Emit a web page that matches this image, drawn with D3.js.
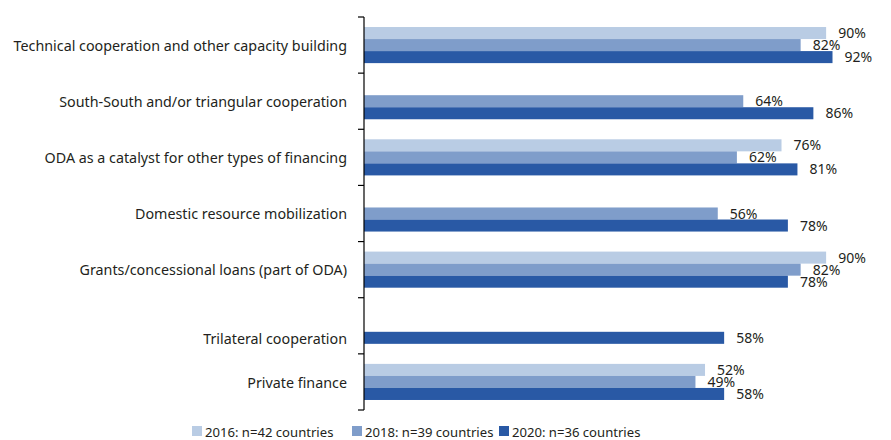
<!DOCTYPE html>
<html>
<head>
<meta charset="utf-8">
<script src="https://cdn.jsdelivr.net/npm/d3@7"></script>
<style>
  html, body { margin: 0; padding: 0; background: #fff; }
  svg { display: block; font-family: 'Noto Sans', sans-serif; }
</style>
</head>
<body>
<div id="chart"></div>
<script>
(function () {
  'use strict';

  const categories = [
    'Technical cooperation and other capacity building',
    'South-South and/or triangular cooperation',
    'ODA as a catalyst for other types of financing',
    'Domestic resource mobilization',
    'Grants/concessional loans (part of ODA)',
    'Trilateral cooperation',
    'Private finance'
  ];
  const seriesNames = ['2016: n=42 countries', '2018: n=39 countries', '2020: n=36 countries'];
  const values2016 = [90, null, 76, null, 90, null, 52];
  const values2018 = [82, 64, 62, 56, 82, null, 49];
  const values2020 = [92, 86, 81, 78, 78, 58, 58];
  const colors = ['#b9cce4', '#7f9dca', '#2959a5'];

  const width = 891;
  const height = 440;
  const textColor = '#231f20';

  const svg = d3.select('#chart')
    .append('svg')
    .attr('width', width)
    .attr('height', height);

  // Scales (the original's value axis does not start at zero)
  const yScale = d3.scaleBand()
    .domain(categories)
    .range([17, 410])
    .paddingInner(0.357)
    .paddingOuter(0.1785);

  const inner = d3.scaleBand()
    .domain(seriesNames)
    .range([0, yScale.bandwidth()]);

  const xScale = d3.scaleLinear()
    .domain([-55, 100])
    .range([364, 858]);

  const rows = [];
  const allSeries = [values2016, values2018, values2020];
  categories.forEach((cat, i) => {
    allSeries.forEach((vals, s) => {
      if (vals[i] !== null) rows.push({ cat, series: seriesNames[s], s, value: vals[i] });
    });
  });

  // Bars
  svg.append('g')
    .selectAll('rect')
    .data(rows)
    .enter()
    .append('rect')
    .attr('x', xScale(-55))
    .attr('y', d => yScale(d.cat) + inner(d.series))
    .attr('width', d => xScale(d.value) - xScale(-55))
    .attr('height', inner.bandwidth())
    .attr('fill', d => colors[d.s]);

  // Value labels
  svg.append('g')
    .selectAll('text')
    .data(rows)
    .enter()
    .append('text')
    .attr('x', d => xScale(d.value) + 12)
    .attr('y', d => yScale(d.cat) + inner(d.series) + inner.bandwidth() / 2)
    .attr('dy', '0.36em')
    .attr('fill', textColor)
    .attr('font-size', '14px')
    .text(d => d.value + '%');

  // Axis line with ticks at category boundaries
  const gap = (yScale.step() - yScale.bandwidth()) / 2;
  const bounds = categories.map(c => yScale(c) - gap);
  bounds.push(yScale(categories[categories.length - 1]) + yScale.bandwidth() + gap);

  const axis = svg.append('g').attr('stroke', '#000').attr('stroke-width', 1.2);
  axis.append('line')
    .attr('x1', xScale(-55)).attr('x2', xScale(-55))
    .attr('y1', bounds[0]).attr('y2', bounds[bounds.length - 1]);
  axis.selectAll('.tick')
    .data(bounds)
    .enter()
    .append('line')
    .attr('class', 'tick')
    .attr('x1', xScale(-55) - 6).attr('x2', xScale(-55))
    .attr('y1', d => d).attr('y2', d => d);

  // Category labels: centred on the group, or on the single bar when only one is present
  svg.append('g')
    .selectAll('text')
    .data(categories)
    .enter()
    .append('text')
    .attr('x', 347)
    .attr('y', (c, i) => {
      const present = allSeries.map((v, s) => v[i] !== null ? s : -1).filter(s => s >= 0);
      if (present.length === 1) {
        return yScale(c) + inner(seriesNames[present[0]]) + inner.bandwidth() / 2;
      }
      return yScale(c) + yScale.bandwidth() / 2;
    })
    .attr('dy', '0.4em')
    .attr('text-anchor', 'end')
    .attr('fill', textColor)
    .attr('font-size', '14.3px')
    .text(c => c);

  // Legend
  const legendX = [192, 352, 499];
  const legend = svg.append('g')
    .selectAll('g')
    .data(seriesNames)
    .enter()
    .append('g')
    .attr('transform', (d, i) => `translate(${legendX[i]},426)`);
  legend.append('rect')
    .attr('width', 10)
    .attr('height', 10)
    .attr('fill', (d, i) => colors[i]);
  legend.append('text')
    .attr('x', 13)
    .attr('y', 10.5)
    .attr('fill', textColor)
    .attr('font-size', '13.1px')
    .text(d => d);
})();
</script>
</body>
</html>
